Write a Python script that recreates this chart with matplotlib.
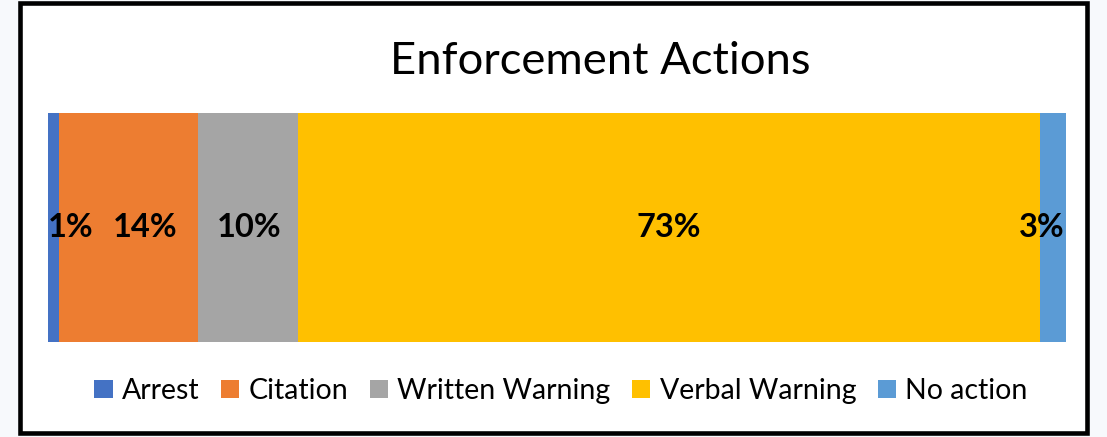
import matplotlib
matplotlib.use("Agg")
import matplotlib.pyplot as plt
from matplotlib.patches import Patch, Rectangle

categories = ["Arrest", "Citation", "Written Warning", "Verbal Warning", "No action"]
shares = [1.1, 13.6, 9.9, 72.8, 2.6]
colors = ["#4472C4", "#ED7D31", "#A5A5A5", "#FFC000", "#5B9BD5"]
# label nudges (percentage units), like Excel pushes crowded labels apart
nudges = [1.7, 1.6, 0.1, 0.0, -1.1]

plt.rcParams["font.family"] = ["Lato", "DejaVu Sans"]

W, H = 1107, 437
fig = plt.figure(figsize=(W / 100, H / 100), dpi=100)
fig.patch.set_facecolor("#f7f9fc")

# white chart area with black frame
fig.patches.append(Rectangle((20 / W, 1 - 433 / H), 1067 / W, 430 / H,
                             transform=fig.transFigure, facecolor="white",
                             edgecolor="black", linewidth=3.3, zorder=-10))

ax = fig.add_axes([48 / W, 1 - 342 / H, 1018 / W, 229 / H])
ax.set_zorder(5)
ax.patch.set_alpha(0)
left = 0
for name, v, c, dx in zip(categories, shares, colors, nudges):
    ax.barh(0, v, left=left, height=1, color=c, label=name)
    ax.text(left + v / 2 + dx, 0, f"{round(v)}%", ha="center", va="center",
            fontsize=23.5, fontweight="bold", color="black")
    left += v
ax.set_xlim(0, sum(shares))
ax.set_ylim(-0.5, 0.5)
ax.axis("off")

fig.text(600 / W, 1 - 62 / H, "Enforcement Actions", ha="center", va="center",
         fontsize=32.7)

handles = [Patch(facecolor=c) for c in colors]
fig.legend(handles, categories, loc="center", bbox_to_anchor=(561 / W, 1 - 391 / H),
           ncol=5, frameon=False, fontsize=20.5, handlelength=0.64, handleheight=0.64,
           handletextpad=0.33, columnspacing=0.75, borderaxespad=0)

fig.savefig("out.png", dpi=100, facecolor=fig.get_facecolor())
